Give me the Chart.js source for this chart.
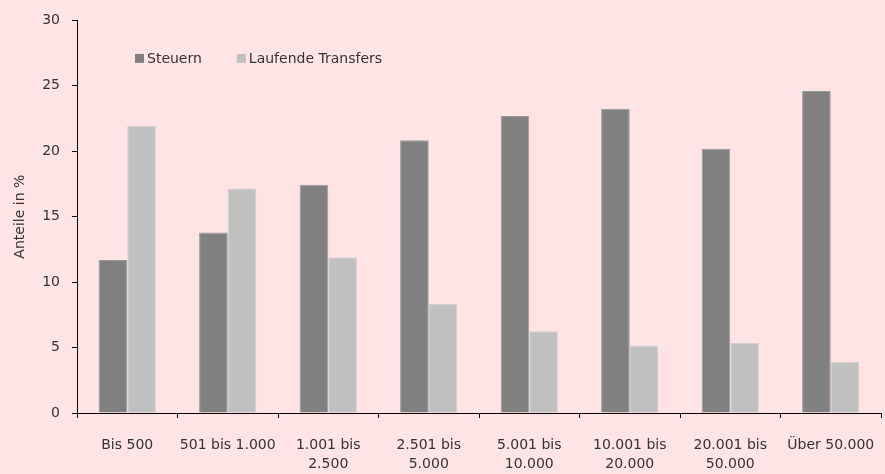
<!DOCTYPE html>
<html>
<head>
<meta charset="utf-8">
<script src="https://cdn.jsdelivr.net/npm/chart.js@4.4.1/dist/chart.umd.min.js"></script>
<style>
  html, body { margin: 0; padding: 0; background: #FFE4E6; }
  #wrap { width: 885px; height: 474px; position: relative; }
</style>
</head>
<body>
<div id="wrap"><canvas id="c" width="885" height="474"></canvas></div>
<script>
// Einkommensklassen (x-Achse)
const categories = [
  'Bis 500',
  '501 bis 1.000',
  ['1.001 bis', '2.500'],
  ['2.501 bis', '5.000'],
  ['5.001 bis', '10.000'],
  ['10.001 bis', '20.000'],
  ['20.001 bis', '50.000'],
  'Über 50.000'
];
// Anteile in %
const steuern = [11.7, 13.8, 17.45, 20.85, 22.7, 23.25, 20.2, 24.6];
const transfers = [21.95, 17.15, 11.9, 8.35, 6.25, 5.15, 5.35, 3.9];
const seriesNames = ['Steuern', 'Laufende Transfers'];
const yTicks = [0, 5, 10, 15, 20, 25, 30];

const FONT = 'DejaVu Sans';
const TEXT = '#333333';
const colors = ['#808080', '#C0C0C0'];

// Legende oben links innerhalb der Zeichenfläche
const innerLegend = {
  id: 'innerLegend',
  afterDraw(chart) {
    const ctx = chart.ctx;
    const a = chart.chartArea;
    ctx.save();
    ctx.font = '14px "' + FONT + '"';
    ctx.textBaseline = 'middle';
    let x = a.left + 58;
    const y = a.top + 38;
    chart.data.datasets.forEach((ds, i) => {
      ctx.fillStyle = ds.backgroundColor;
      ctx.fillRect(x, y - 4.5, 9, 9);
      ctx.fillStyle = TEXT;
      ctx.fillText(ds.label, x + 12, y + 0.5);
      x += 12 + ctx.measureText(ds.label).width + 35;
    });
    ctx.restore();
  }
};

new Chart(document.getElementById('c'), {
  type: 'bar',
  data: {
    labels: categories,
    datasets: [
      { label: seriesNames[0], data: steuern, backgroundColor: colors[0], borderColor: '#999999', borderWidth: 1 },
      { label: seriesNames[1], data: transfers, backgroundColor: colors[1], borderColor: '#D4CDCE', borderWidth: 1 }
    ]
  },
  options: {
    responsive: false,
    animation: false,
    devicePixelRatio: 1,
    layout: { padding: { top: 19, right: 4, left: 0, bottom: 0 } },
    datasets: { bar: { categoryPercentage: 0.57, barPercentage: 1.0 } },
    plugins: {
      legend: { display: false },
      tooltip: { enabled: false }
    },
    scales: {
      x: {
        grid: { display: true, offset: true, drawOnChartArea: false, drawTicks: true, tickLength: 5, color: '#000', tickColor: '#000' },
        border: { display: true, color: '#000', width: 1 },
        ticks: { color: TEXT, font: { family: FONT, size: 14, lineHeight: 1.37 }, padding: 18, maxRotation: 0, autoSkip: false },
        afterFit(s) { s.height = 61; s.paddingLeft = 0; s.paddingRight = 0; }
      },
      y: {
        min: 0, max: 30,
        afterBuildTicks(s) { s.ticks = yTicks.map(v => ({ value: v })); },
        grid: { display: true, drawOnChartArea: false, drawTicks: true, tickLength: 5, color: '#000', tickColor: '#000' },
        border: { display: true, color: '#000', width: 1 },
        ticks: { color: TEXT, font: { family: FONT, size: 14 }, padding: 12 },
        title: { display: true, text: 'Anteile in %', color: TEXT, font: { family: FONT, size: 14 }, padding: { top: 12, bottom: 0 } },
        afterFit(s) { s.width = 77; }
      }
    }
  },
  plugins: [innerLegend]
});
</script>
</body>
</html>
